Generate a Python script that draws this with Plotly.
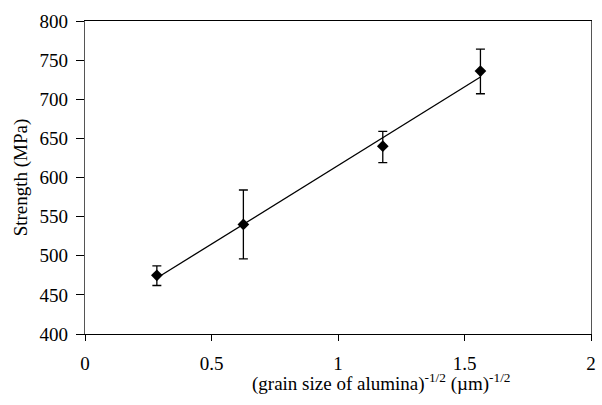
import numpy as np
import plotly.graph_objects as go

grain = [0.284, 0.626, 1.177, 1.563]
strength = [475, 540, 640, 736]
err_plus = [12, 44, 19, 28]
err_minus = [13, 44, 21, 29]

coef = np.polyfit(grain, strength, 1)
fit_x = [min(grain), max(grain)]
fit_y = [coef[0] * v + coef[1] for v in fit_x]

font_family = "Liberation Serif"
fs = 19

fig = go.Figure()
fig.add_trace(go.Scatter(x=fit_x, y=fit_y, mode="lines",
                         line=dict(color="black", width=1.3), showlegend=False))
fig.add_trace(go.Scatter(
    x=grain, y=strength, mode="markers",
    marker=dict(symbol="diamond", size=9, color="black"),
    error_y=dict(type="data", symmetric=False, array=err_plus, arrayminus=err_minus,
                 color="black", thickness=1.3, width=4.5),
    showlegend=False))

fig.update_layout(
    width=602, height=405,
    margin=dict(l=85, r=6, t=21, b=71),
    paper_bgcolor="white", plot_bgcolor="white",
    font=dict(family=font_family, size=fs, color="black"),
    xaxis=dict(range=[0, 2], tickvals=[0, 0.5, 1, 1.5, 2],
               ticktext=["0", "0.5", "1", "1.5", "2"],
               showline=True, linecolor="black", linewidth=1.3, mirror=True,
               ticks="outside", ticklen=6, tickcolor="black", tickwidth=1,
               ticklabelstandoff=6,
               showgrid=False, zeroline=False,
               tickfont=dict(family=font_family, size=fs)),
    yaxis=dict(range=[400, 800], tickvals=list(range(400, 801, 50)),
               showline=True, linecolor="#555555", linewidth=1.3, mirror=True,
               ticks="outside", ticklen=8, tickcolor="black", tickwidth=1,
               ticklabelstandoff=4,
               showgrid=False, zeroline=False,
               title=dict(text="Strength (MPa)", standoff=6,
                          font=dict(family=font_family, size=fs)),
               tickfont=dict(family=font_family, size=fs)),
    annotations=[dict(
        text="(grain size of alumina)<sup>-1/2</sup> (µm)<sup>-1/2</sup>",
        xref="paper", yref="paper", x=0.585, y=-0.155,
        xanchor="center", yanchor="middle", showarrow=False,
        font=dict(family=font_family, size=fs))],
)

fig.write_html("out.html")
